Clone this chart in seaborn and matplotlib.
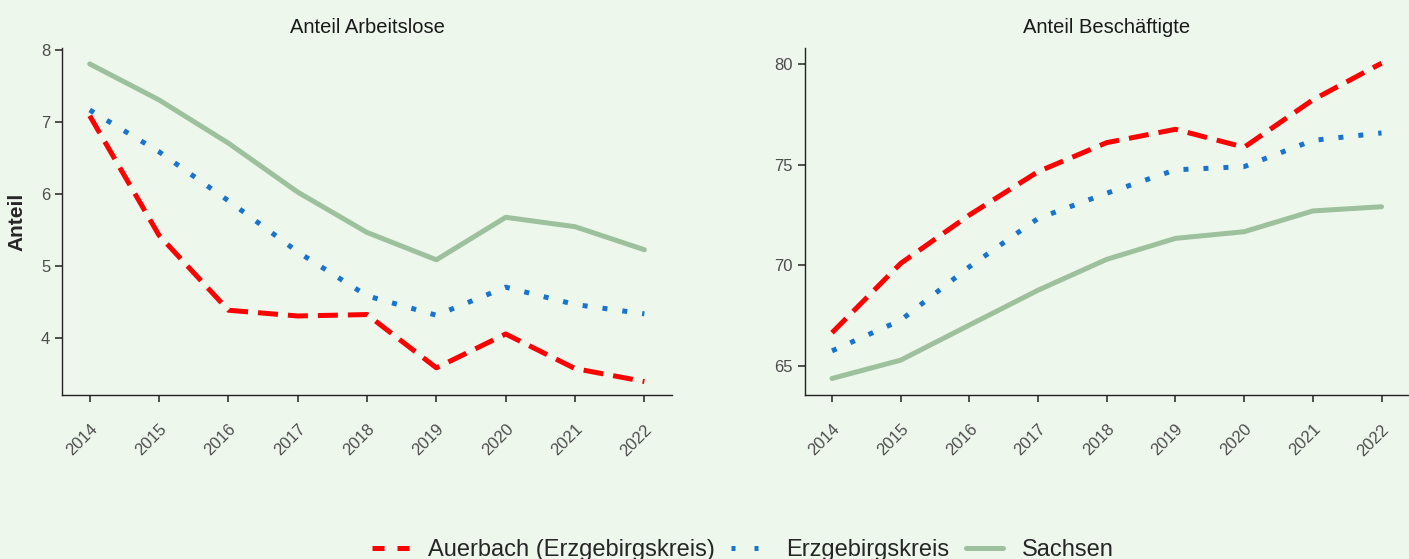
import pandas as pd
import seaborn as sns
import matplotlib.pyplot as plt
from matplotlib.lines import Line2D

years = [2014, 2015, 2016, 2017, 2018, 2019, 2020, 2021, 2022]
regions = ["Auerbach (Erzgebirgskreis)", "Erzgebirgskreis", "Sachsen"]

# Anteil Arbeitslose
alo_auerbach = [7.09, 5.43, 4.39, 4.31, 4.33, 3.59, 4.06, 3.58, 3.40]
alo_erzgeb = [7.17, 6.59, 5.91, 5.20, 4.59, 4.32, 4.71, 4.47, 4.34]
alo_sachsen = [7.81, 7.31, 6.71, 6.03, 5.47, 5.09, 5.68, 5.55, 5.23]

# Anteil Beschäftigte
besch_auerbach = [66.66, 70.10, 72.50, 74.65, 76.09, 76.75, 75.86, 78.21, 80.03]
besch_erzgeb = [65.76, 67.28, 69.93, 72.33, 73.58, 74.74, 74.90, 76.20, 76.57]
besch_sachsen = [64.39, 65.30, 67.04, 68.77, 70.30, 71.34, 71.67, 72.70, 72.91]

panel_titles = ["Anteil Arbeitslose", "Anteil Beschäftigte"]

BG = "#EDF7EC"
palette = {regions[0]: "#FF0000", regions[1]: "#1874CD", regions[2]: "#9DC09D"}
dashes = {regions[0]: (4, 2), regions[1]: (1, 3), regions[2]: ""}
# kürzere Muster für die Legende
legend_dashes = {regions[0]: (2.4, 2.6), regions[1]: (0.8, 3.8), regions[2]: None}


def long_frame(a, e, s):
    rows = []
    for name, vals in zip(regions, [a, e, s]):
        for y, v in zip(years, vals):
            rows.append({"Jahr": y, "Anteil": v, "Region": name})
    return pd.DataFrame(rows)


frames = [
    long_frame(alo_auerbach, alo_erzgeb, alo_sachsen),
    long_frame(besch_auerbach, besch_erzgeb, besch_sachsen),
]

sns.set_theme(style="ticks")
plt.rcParams["font.family"] = ["Liberation Sans", "DejaVu Sans"]

fig = plt.figure(figsize=(14.09, 5.59), dpi=100, facecolor=BG)
ax1 = fig.add_axes([0.044, 0.293, 0.433, 0.621])
ax2 = fig.add_axes([0.571, 0.293, 0.429, 0.621])
axes = [ax1, ax2]
ylims = [(3.21, 8.03), (63.56, 80.78)]
yticks = [[4, 5, 6, 7, 8], [65, 70, 75, 80]]

for ax, df, title, yl, yt in zip(axes, frames, panel_titles, ylims, yticks):
    ax.set_facecolor(BG)
    sns.lineplot(
        data=df, x="Jahr", y="Anteil", hue="Region", style="Region",
        palette=palette, dashes=dashes, linewidth=3.6, ax=ax,
    )
    ax.get_legend().remove()
    ax.set_title(title, fontsize=14.5, pad=11, color="#1A1A1A")
    ax.set_xlim(2013.6, 2022.4)
    ax.set_ylim(*yl)
    ax.set_yticks(yt)
    ax.set_xticks(years)
    ax.set_xticklabels([str(y) for y in years], rotation=45, ha="right",
                       va="top", rotation_mode="anchor")
    ax.tick_params(axis="both", colors="#333333", labelcolor="#4D4D4D",
                   labelsize=12, length=5, width=1.2)
    ax.tick_params(axis="x", pad=14)
    for s in ["top", "right"]:
        ax.spines[s].set_visible(False)
    for s in ["left", "bottom"]:
        ax.spines[s].set_color("#222222")
        ax.spines[s].set_linewidth(1.0)
    ax.set_xlabel("")
    ax.set_ylabel("")

ax1.set_ylabel("Anteil", fontsize=15, fontweight="bold")
ax1.yaxis.set_label_coords(-0.058, 0.5)

handles = []
for r in regions:
    h = Line2D([], [], color=palette[r], linewidth=3.6)
    if legend_dashes[r] is not None:
        h.set_dashes(legend_dashes[r])
    handles.append(h)
fig.legend(handles, regions, loc="lower center", ncol=3, frameon=False,
           fontsize=17, handlelength=1.57, columnspacing=0.68,
           bbox_to_anchor=(0.527, -0.042), handletextpad=0.8)

fig.savefig("out.png", dpi=100, facecolor=BG)
